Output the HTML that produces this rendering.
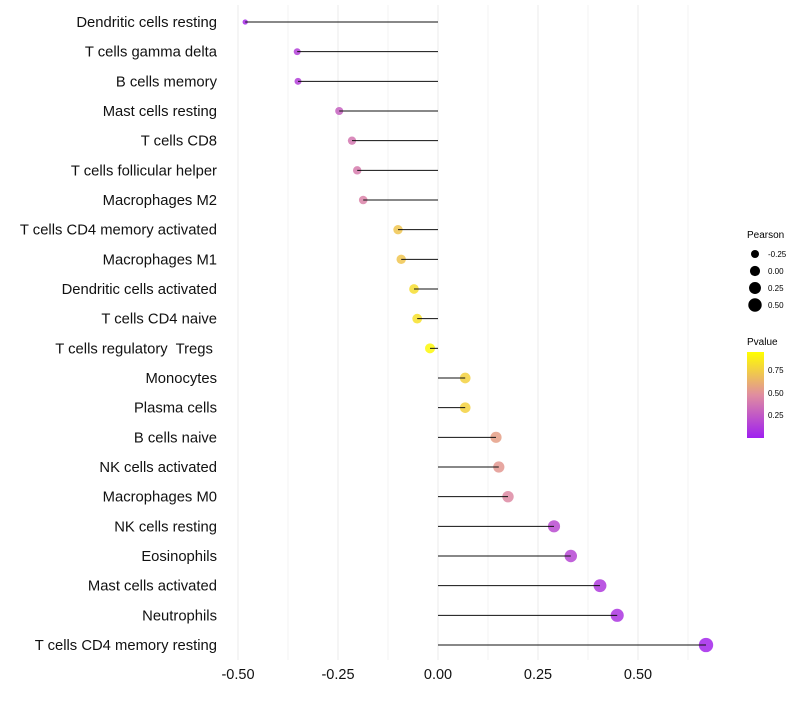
<!DOCTYPE html>
<html><head><meta charset="utf-8"><style>
body{margin:0;background:#fff;font-family:"Liberation Sans",sans-serif}
text{white-space:pre}
</style></head><body>
<svg id="chart" width="800" height="700" xmlns="http://www.w3.org/2000/svg" font-family="Liberation Sans, sans-serif">
<defs><linearGradient id="pg" x1="0" y1="1" x2="0" y2="0">
<stop offset="0" stop-color="#9f1ff0"/><stop offset="0.5" stop-color="#e08da0"/><stop offset="1" stop-color="#ffff00"/></linearGradient></defs>
<g id="grid"></g><g id="points"></g><g id="marks"></g><g id="ylabels"></g><g id="xlabels"></g>
<g>
<text x="747" y="238" font-size="10">Pearson</text>
<g id="sizeleg"></g>
<text x="747" y="345" font-size="10">Pvalue</text>
<rect x="747" y="352" width="17" height="86" fill="url(#pg)"/>
<text x="768" y="373" font-size="8">0.75</text>
<text x="768" y="396" font-size="8">0.50</text>
<text x="768" y="418" font-size="8">0.25</text>
</g>
</svg>
<script>
const categories=["Dendritic cells resting","T cells gamma delta","B cells memory","Mast cells resting","T cells CD8","T cells follicular helper","Macrophages M2","T cells CD4 memory activated","Macrophages M1","Dendritic cells activated","T cells CD4 naive","T cells regulatory  Tregs ","Monocytes","Plasma cells","B cells naive","NK cells activated","Macrophages M0","NK cells resting","Eosinophils","Mast cells activated","Neutrophils","T cells CD4 memory resting"];
const pearson=[-0.482,-0.352,-0.35,-0.247,-0.215,-0.202,-0.187,-0.1,-0.092,-0.06,-0.052,-0.02,0.068,0.068,0.145,0.152,0.175,0.29,0.332,0.405,0.448,0.67];
const pvalue=[0.05,0.15,0.15,0.3,0.4,0.42,0.45,0.75,0.75,0.85,0.87,0.97,0.8,0.8,0.58,0.55,0.48,0.2,0.18,0.12,0.1,0.03];
const xTicks=[-0.5,-0.25,0,0.25,0.5];
const xTickLabels=["-0.50","-0.25","0.00","0.25","0.50"];
const xMinor=[-0.375,-0.125,0.125,0.375,0.625];
const sizeLegend=[-0.25,0,0.25,0.5];
const sizeLegendLabels=["-0.25","0.00","0.25","0.50"];
const NS="http://www.w3.org/2000/svg";
const x=v=>438+v*400;
const y=i=>22+i*(623/21);
const r=v=>Math.sqrt(Math.max(3,25.7+38.7*v));
function hex(h){return [1,3,5].map(k=>parseInt(h.substr(k,2),16));}
function col(p){const a=hex("#9f1ff0"),b=hex("#e08da0"),c=hex("#ffff00");let s,e,t;if(p<0.5){s=a;e=b;t=p/0.5}else{s=b;e=c;t=(p-0.5)/0.5}return "rgb("+s.map((v,k)=>Math.round(v+(e[k]-v)*t)).join(",")+")";}
function mk(tag,at,parent){const el=document.createElementNS(NS,tag);for(const k in at)el.setAttribute(k,at[k]);document.getElementById(parent).appendChild(el);return el;}
xMinor.forEach(t=>{
 const g=mk("line",{x1:x(t),x2:x(t),y1:5,y2:660,stroke:"#f3f3f3","stroke-width":1},"grid");
 
 
});
xTicks.forEach((t,i)=>{
 const g=mk("line",{x1:x(t),x2:x(t),y1:5,y2:660,stroke:"#ebebeb","stroke-width":1},"grid");
 
 
 const tx=mk("text",{x:x(t),y:679,"font-size":14.5,"text-anchor":"middle",fill:"#111"},"xlabels");
 tx.textContent=xTickLabels[i];
 
 
});
categories.forEach((c,i)=>{
 const ci=mk("circle",{cx:x(pearson[i]),cy:y(i),r:r(pearson[i]),fill:col(pvalue[i]),"fill-opacity":0.85},"points");
 
 
 const ln=mk("line",{x1:x(0),x2:x(pearson[i]),y1:y(i),y2:y(i),stroke:"#111","stroke-width":1},"marks");
 
 
 const tx=mk("text",{x:217,y:y(i)+5,"font-size":14.8,"text-anchor":"end",fill:"#111"},"ylabels");
 tx.textContent=c;
 
 
});
sizeLegend.forEach((v,i)=>{
 const cy=254+i*17;
 const ci=mk("circle",{cx:755,cy:cy,r:r(v),fill:"#000"},"sizeleg");
 
 
 const tx=mk("text",{x:768,y:cy+3,"font-size":8},"sizeleg");
 tx.textContent=sizeLegendLabels[i];
 
 
});
</script>
</body></html>
